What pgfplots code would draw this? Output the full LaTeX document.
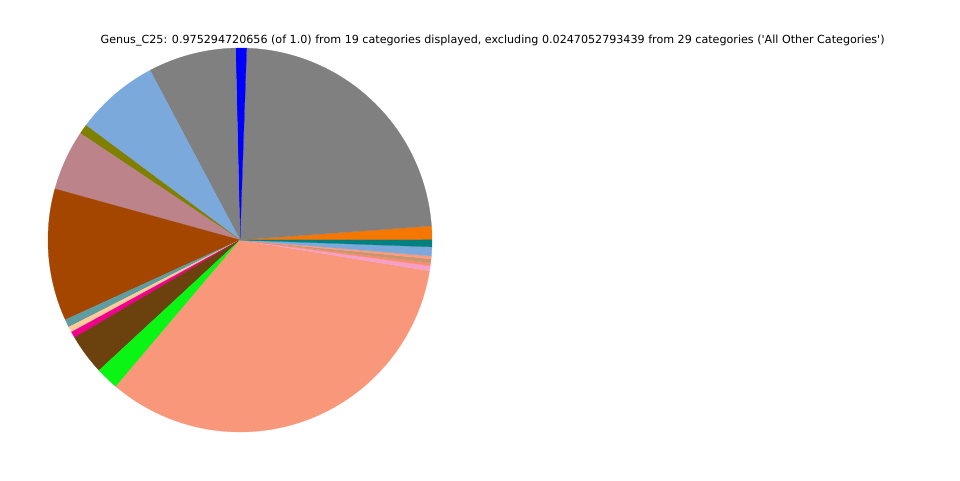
\documentclass[border=0pt]{standalone}
\usepackage{pgfplots}
\pgfplotsset{compat=1.18}
\usepackage{fontspec}
\setmainfont{DejaVu Sans}

\definecolor{cOrange}{RGB}{245,118,0}
\definecolor{cGray}{RGB}{128,128,128}
\definecolor{cBlue}{RGB}{0,0,255}
\definecolor{cLightBlue}{RGB}{123,169,219}
\definecolor{cOlive}{RGB}{128,128,0}
\definecolor{cRosy}{RGB}{188,131,139}
\definecolor{cBrown}{RGB}{164,70,0}
\definecolor{cCadet}{RGB}{95,158,160}
\definecolor{cPeach}{RGB}{255,204,153}
\definecolor{cMagenta}{RGB}{240,0,140}
\definecolor{cDarkBrown}{RGB}{107,66,13}
\definecolor{cGreen}{RGB}{10,245,20}
\definecolor{cSalmon}{RGB}{248,151,121}
\definecolor{cPink}{RGB}{245,160,200}
\definecolor{cSalmonB}{RGB}{250,140,110}
\definecolor{cTan}{RGB}{200,150,110}
\definecolor{cSalmonC}{RGB}{252,155,125}
\definecolor{cTeal}{RGB}{0,128,128}

% share of the circle / colour, counter-clockwise from 3 o'clock
\def\slices{0.0117/cOrange, 0.2328/cGray, 0.0092/cBlue, 0.0739/cGray,
  0.0706/cLightBlue, 0.0081/cOlive, 0.0508/cRosy, 0.1111/cBrown,
  0.0067/cCadet, 0.0047/cPeach, 0.0053/cMagenta, 0.0339/cDarkBrown,
  0.0194/cGreen, 0.3361/cSalmon, 0.0042/cPink, 0.0025/cSalmonB,
  0.0033/cTan, 0.0025/cSalmonC, 0.0075/cLightBlue, 0.0058/cTeal}

% build one \addplot per wedge from the shares
\xdef\acc{0}
\gdef\wedges{}
\foreach \v/\c in \slices {
    \pgfmathsetmacro\a{360*\acc}
    \pgfmathsetmacro\b{360*(\acc+\v)}
    \pgfmathsetmacro\n{\acc+\v}
    \xdef\acc{\n}
    \xdef\wedges{\unexpanded\expandafter{\wedges}%
        \noexpand\addplot[fill=\c, draw=\c, line width=0.2pt,
        domain=\a:\b, samples=60, variable=\noexpand\t]
        ({cos(\noexpand\t)}, {sin(\noexpand\t)}) -- (axis cs:0,0) -- cycle;}
}

\begin{document}
\begin{tikzpicture}
\path[use as bounding box] (0,0) rectangle (720pt,360pt);

\begin{axis}[
    at={(180pt,180pt)}, anchor=center,
    width=288pt, height=288pt, scale only axis,
    xmin=-1, xmax=1, ymin=-1, ymax=1,
    hide axis, clip=false
]
\wedges
\end{axis}

\node[font=\fontsize{8.35}{10}\selectfont] at (369.5pt,329.25pt)
  {Genus\_C25: 0.975294720656 (of 1.0) from 19 categories displayed, excluding 0.0247052793439 from 29 categories (\textquotesingle All Other Categories\textquotesingle)};
\end{tikzpicture}
\end{document}
